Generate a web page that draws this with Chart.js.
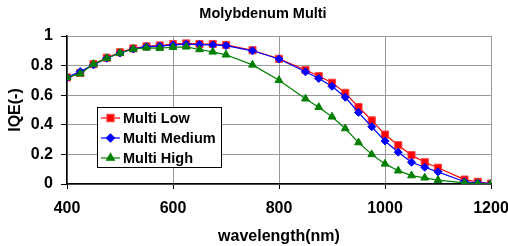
<!DOCTYPE html>
<html>
<head>
<meta charset="utf-8">
<script src="https://cdn.jsdelivr.net/npm/chart.js@4"></script>
<style>
  body { margin: 0; background: #fff; }
  #wrap { width: 508px; height: 246px; }
</style>
</head>
<body>
<div id="wrap"><canvas id="myChart" width="508" height="246"></canvas></div>
<script>
// wavelengths (nm)
const wavelengths = [400, 425, 450, 475, 500, 525, 550, 575, 600, 625, 650, 675, 700, 750, 800,
  850, 875, 900, 925, 950, 975, 1000, 1025, 1050, 1075, 1100, 1150, 1175, 1200];
// IQE values
const multiLow = [0.72, 0.75, 0.81, 0.853, 0.89, 0.916, 0.93, 0.936, 0.945, 0.95, 0.946, 0.946, 0.94, 0.904, 0.846,
  0.77, 0.73, 0.684, 0.616, 0.52, 0.43, 0.334, 0.262, 0.195, 0.147, 0.11, 0.03, 0.015, 0.003];
const multiMedium = [0.72, 0.76, 0.805, 0.85, 0.885, 0.912, 0.928, 0.932, 0.94, 0.945, 0.942, 0.94, 0.935, 0.9, 0.845,
  0.758, 0.713, 0.66, 0.586, 0.484, 0.387, 0.29, 0.215, 0.147, 0.113, 0.082, 0.015, 0.008, 0.002];
const multiHigh = [0.72, 0.745, 0.81, 0.85, 0.885, 0.912, 0.92, 0.918, 0.924, 0.927, 0.909, 0.893, 0.873, 0.805, 0.701,
  0.576, 0.519, 0.454, 0.375, 0.28, 0.2, 0.136, 0.09, 0.057, 0.042, 0.026, 0.008, 0.003, 0];
const seriesNames = ["Multi Low", "Multi Medium", "Multi High"];
const yTicks = [0, 0.2, 0.4, 0.6, 0.8, 1];
const xTicks = [400, 600, 800, 1000, 1200];
const chartTitle = 'Molybdenum Multi';

const FONT = 'Arial, "Liberation Sans", sans-serif';

function toPoints(values) {
  return wavelengths.map((w, i) => ({ x: w, y: values[i] }));
}

// title + boxed legend inside the plot, like the original
const boxLegend = {
  id: 'boxLegend',
  afterDatasetsDraw(chart) {
    const ctx = chart.ctx;
    ctx.save();
    // title (slightly right of canvas centre in the original)
    ctx.fillStyle = '#000';
    ctx.font = 'bold 14.5px ' + FONT;
    ctx.textAlign = 'center';
    ctx.textBaseline = 'middle';
    ctx.fillText(chartTitle, 263, 14);

    const left = 97, top = 107, w = 124, h = 60;
    ctx.fillStyle = '#fff';
    ctx.fillRect(left, top, w, h);
    ctx.strokeStyle = '#000';
    ctx.lineWidth = 1;
    ctx.strokeRect(left + 0.5, top + 0.5, w, h);
    ctx.font = 'bold 14.5px ' + FONT;
    ctx.textAlign = 'left';
    // legend in series order (Low, Medium, High)
    const sets = chart.data.datasets.slice().sort((a, b) => a.legendIndex - b.legendIndex);
    sets.forEach((ds, i) => {
      const y = top + 11 + i * 20;
      ctx.strokeStyle = ds.borderColor;
      ctx.lineWidth = 1.2;
      ctx.beginPath();
      ctx.moveTo(101, y);
      ctx.lineTo(120, y);
      ctx.stroke();
      ctx.fillStyle = ds.pointBackgroundColor;
      ctx.strokeStyle = ds.pointBorderColor;
      Chart.helpers.drawPoint(ctx, {
        pointStyle: ds.pointStyle,
        radius: ds.pointRadius,
        borderWidth: ds.pointBorderWidth,
        rotation: 0
      }, 110.5, y);
      ctx.fillStyle = '#000';
      ctx.fillText(ds.label, 123, y + 1);
    });
    ctx.restore();
  }
};

const ctx = document.getElementById('myChart');

new Chart(ctx, {
  type: 'line',
  data: {
    datasets: [
      {
        label: seriesNames[2],
        legendIndex: 2,
        data: toPoints(multiHigh),
        borderColor: '#008000',
        borderWidth: 1.2,
        pointStyle: 'triangle',
        pointRadius: 4.5,
        pointBackgroundColor: '#008000',
        pointBorderColor: '#008000',
        pointBorderWidth: 1,
        order: 0
      },
      {
        label: seriesNames[1],
        legendIndex: 1,
        data: toPoints(multiMedium),
        borderColor: '#0000ff',
        borderWidth: 1.2,
        pointStyle: 'rectRot',
        pointRadius: 4,
        pointBackgroundColor: '#0000ff',
        pointBorderColor: '#0000ff',
        pointBorderWidth: 1,
        order: 1
      },
      {
        label: seriesNames[0],
        legendIndex: 0,
        data: toPoints(multiLow),
        borderColor: '#ff0000',
        borderWidth: 1.2,
        pointStyle: 'rect',
        pointRadius: 5,
        pointBackgroundColor: '#ff0000',
        pointBorderColor: '#ff4040',
        pointBorderWidth: 1,
        order: 2
      }
    ]
  },
  options: {
    responsive: false,
    animation: false,
    layout: { padding: { left: 0, right: 0, top: 36, bottom: 0 } },
    plugins: {
      legend: { display: false },
      tooltip: { enabled: false },
      title: { display: false }
    },
    scales: {
      x: {
        type: 'linear',
        min: 400,
        max: 1200,
        afterBuildTicks: (scale) => { scale.ticks = xTicks.map(v => ({ value: v })); },
        afterFit: (scale) => {
          scale.height = 62;
          scale.paddingLeft = 0;
          scale.paddingRight = 17;
        },
        grid: { color: '#999', tickColor: '#000', tickLength: 5, lineWidth: 1 },
        border: { color: '#000', width: 1.5 },
        ticks: {
          color: '#000',
          padding: 10,
          maxRotation: 0,
          font: { family: FONT, size: 16, weight: 'bold' },
          callback: (v) => String(v)
        },
        title: {
          display: true,
          text: 'wavelength(nm)',
          color: '#000',
          font: { family: FONT, size: 16, weight: 'bold' },
          padding: { top: 0, bottom: 0 }
        }
      },
      y: {
        min: 0,
        max: 1,
        afterBuildTicks: (scale) => { scale.ticks = yTicks.map(v => ({ value: v })); },
        afterFit: (scale) => {
          scale.width = 67;
          scale.paddingTop = 0;
          scale.paddingBottom = 0;
        },
        grid: { color: '#999', tickColor: '#000', tickLength: 6, lineWidth: 1 },
        border: { color: '#000', width: 1.5 },
        ticks: {
          color: '#000',
          padding: 8,
          font: { family: FONT, size: 16, weight: 'bold' },
          callback: (v) => String(v)
        },
        title: {
          display: true,
          text: 'IQE(-)',
          color: '#000',
          font: { family: FONT, size: 16, weight: 'bold' },
          padding: { top: 6, bottom: 0 }
        }
      }
    }
  },
  plugins: [boxLegend]
});
</script>
</body>
</html>
